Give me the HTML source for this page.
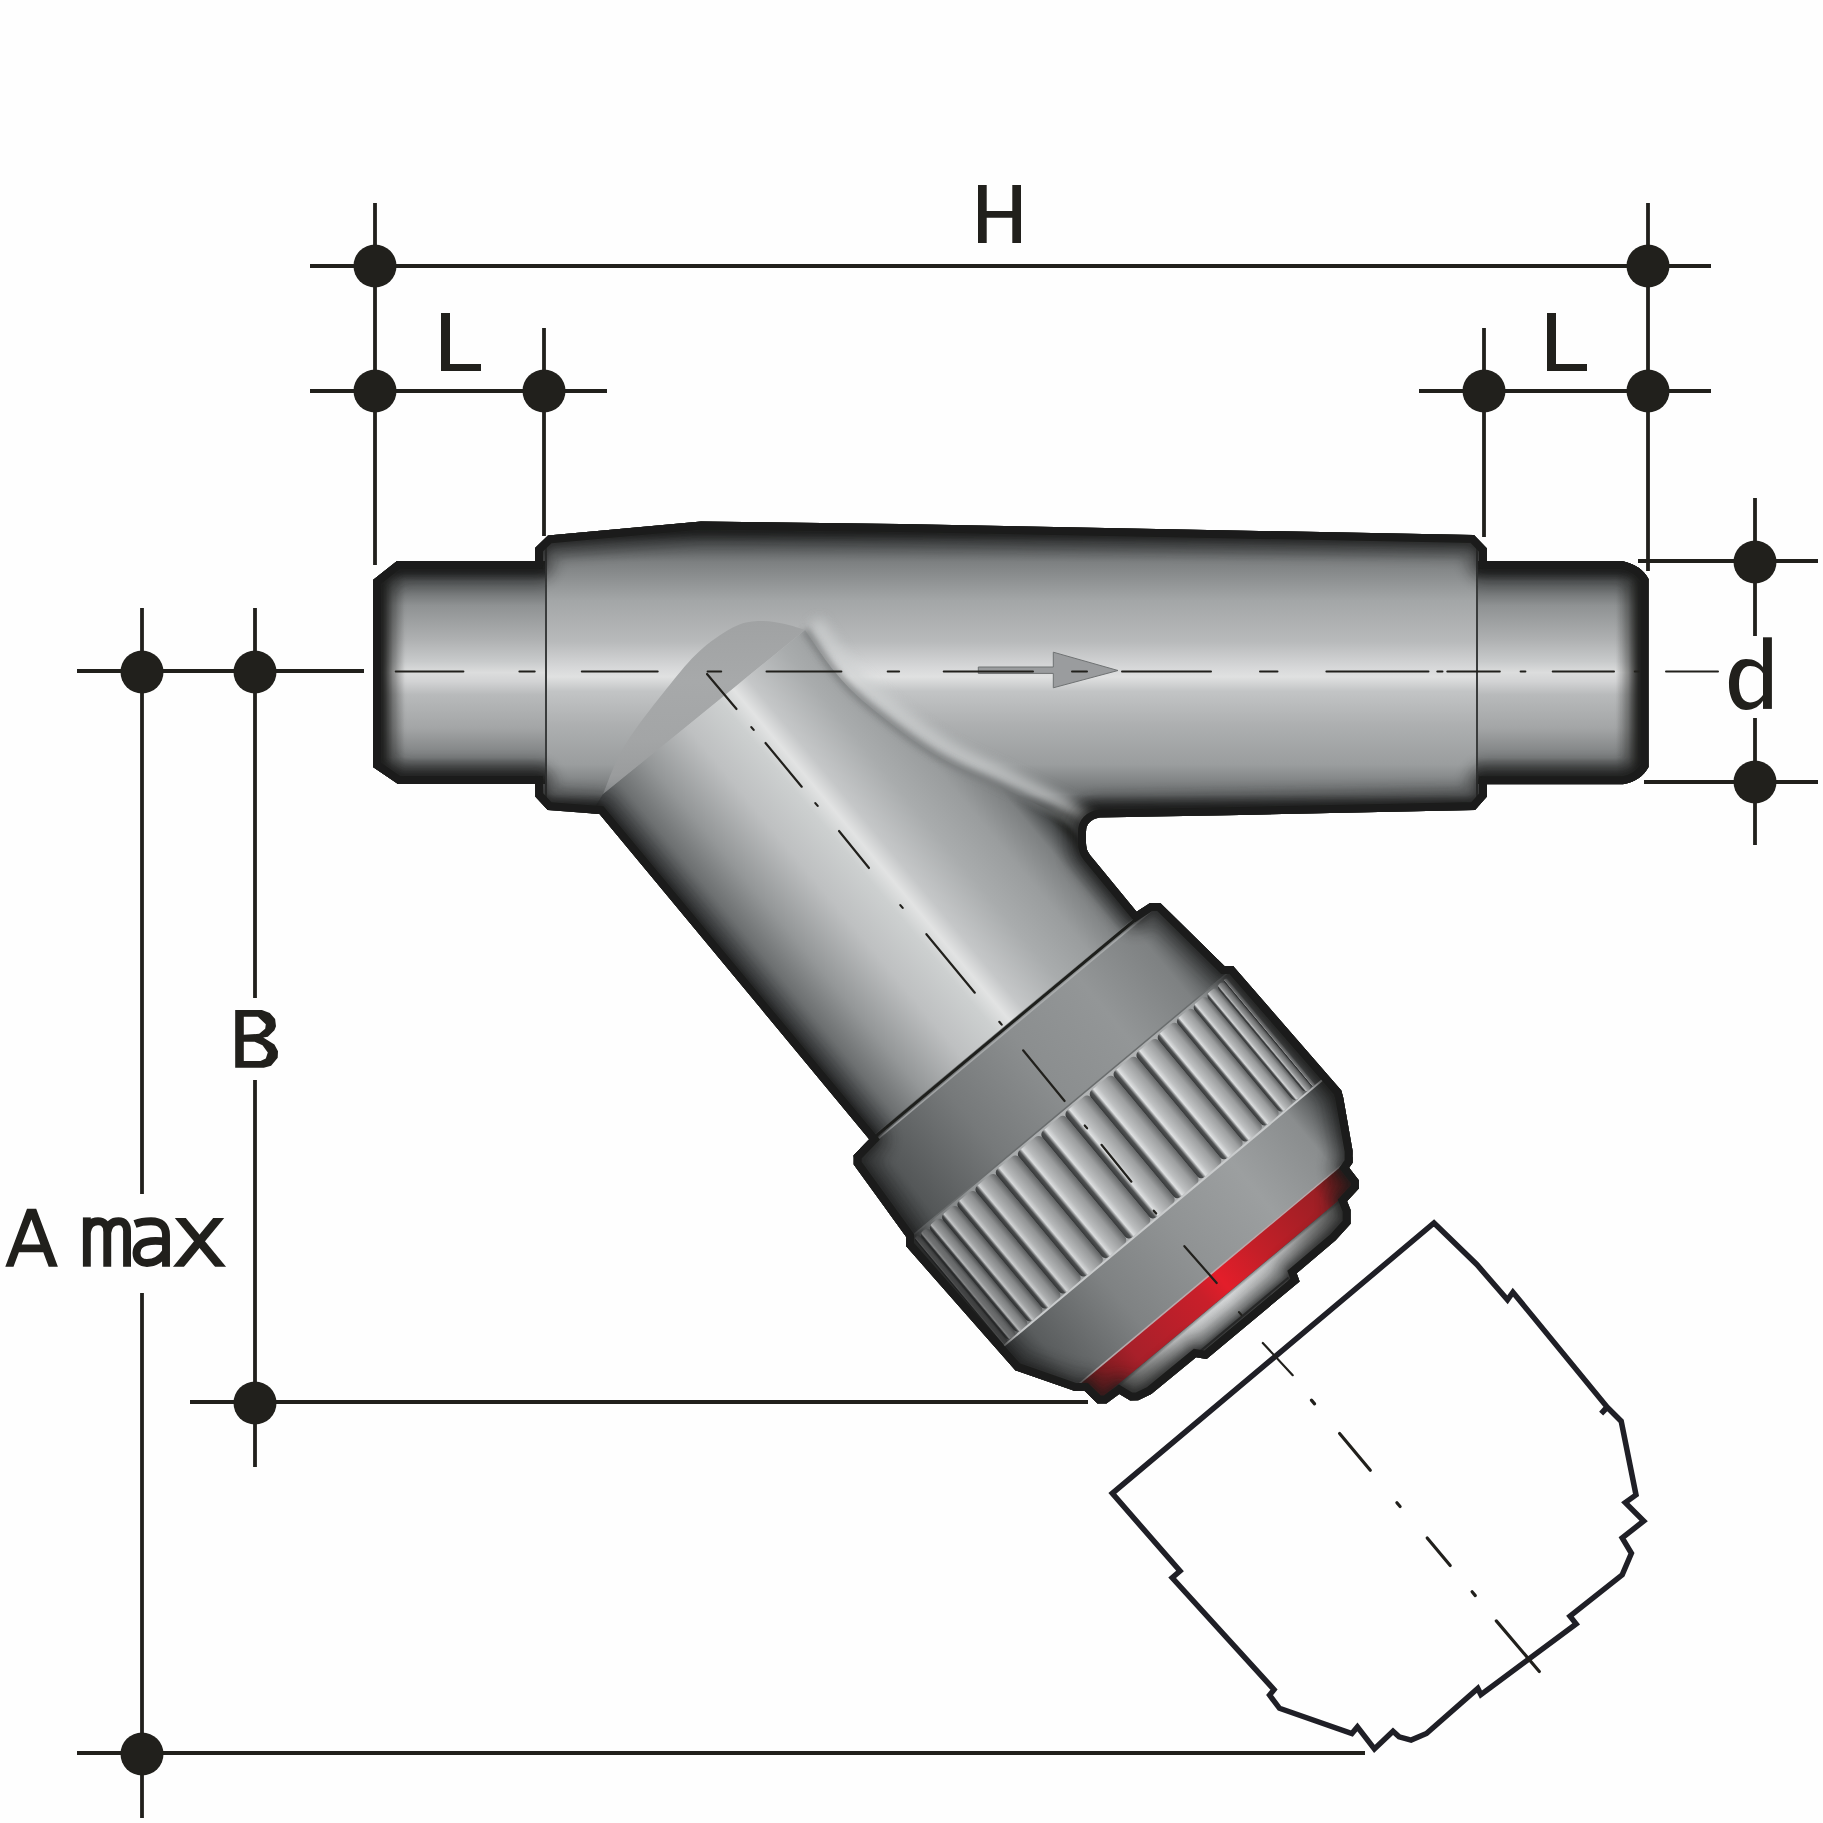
<!DOCTYPE html><html><head><meta charset="utf-8"><style>html,body{margin:0;padding:0;background:#fefefe;}svg{display:block;}</style></head><body>
<svg width="1823" height="1823" viewBox="0 0 1823 1823">
<defs>
<linearGradient id="gSock" x1="0" y1="561" x2="0" y2="784" gradientUnits="userSpaceOnUse"><stop offset="0" stop-color="#1e1f1c"/><stop offset="0.05" stop-color="#2a2c2c"/><stop offset="0.09" stop-color="#5a5d5e"/><stop offset="0.2" stop-color="#8f9293"/><stop offset="0.35" stop-color="#aeb0b1"/><stop offset="0.45" stop-color="#c8cacb"/><stop offset="0.5" stop-color="#dcdddd"/><stop offset="0.54" stop-color="#d2d3d4"/><stop offset="0.6" stop-color="#b8babb"/><stop offset="0.75" stop-color="#a3a5a6"/><stop offset="0.88" stop-color="#7c7f80"/><stop offset="0.95" stop-color="#3e4040"/><stop offset="1" stop-color="#1e1f1c"/></linearGradient>
<linearGradient id="gBody" x1="0" y1="521" x2="0" y2="815" gradientUnits="userSpaceOnUse"><stop offset="0" stop-color="#1e1f1c"/><stop offset="0.04" stop-color="#2a2c2c"/><stop offset="0.07" stop-color="#4e5152"/><stop offset="0.14" stop-color="#7d8081"/><stop offset="0.27" stop-color="#a3a6a7"/><stop offset="0.41" stop-color="#b8babb"/><stop offset="0.5" stop-color="#d7d8d9"/><stop offset="0.53" stop-color="#e0e1e1"/><stop offset="0.58" stop-color="#c2c4c5"/><stop offset="0.69" stop-color="#aeb0b1"/><stop offset="0.83" stop-color="#9a9d9e"/><stop offset="0.93" stop-color="#6d7071"/><stop offset="0.97" stop-color="#2e3030"/><stop offset="1" stop-color="#1e1f1c"/></linearGradient>
<linearGradient id="gEdgeL" x1="373" y1="0" x2="405" y2="0" gradientUnits="userSpaceOnUse"><stop offset="0" stop-color="#1e1f1c" stop-opacity="1"/><stop offset="0.3" stop-color="#1e1f1c" stop-opacity="0.85"/><stop offset="0.6" stop-color="#1e1f1c" stop-opacity="0.3"/><stop offset="1" stop-color="#1e1f1c" stop-opacity="0"/></linearGradient>
<linearGradient id="gEdgeR" x1="1648" y1="0" x2="1616" y2="0" gradientUnits="userSpaceOnUse"><stop offset="0" stop-color="#1e1f1c" stop-opacity="1"/><stop offset="0.3" stop-color="#1e1f1c" stop-opacity="0.85"/><stop offset="0.6" stop-color="#1e1f1c" stop-opacity="0.3"/><stop offset="1" stop-color="#1e1f1c" stop-opacity="0"/></linearGradient>
<linearGradient id="gBranch" x1="0" y1="172" x2="0" y2="-179" gradientUnits="userSpaceOnUse"><stop offset="0" stop-color="#1e1f1c"/><stop offset="0.03" stop-color="#45484a"/><stop offset="0.1" stop-color="#6d7071"/><stop offset="0.2" stop-color="#949798"/><stop offset="0.35" stop-color="#bec0c1"/><stop offset="0.47" stop-color="#cdd0d0"/><stop offset="0.52" stop-color="#e2e3e3"/><stop offset="0.57" stop-color="#c5c7c8"/><stop offset="0.7" stop-color="#a9acad"/><stop offset="0.82" stop-color="#9a9d9e"/><stop offset="0.92" stop-color="#7d8081"/><stop offset="0.97" stop-color="#4a4d4e"/><stop offset="1" stop-color="#1e1f1c"/></linearGradient>
<linearGradient id="gNut" x1="0" y1="214" x2="0" y2="-221" gradientUnits="userSpaceOnUse"><stop offset="0" stop-color="#1e1f1c"/><stop offset="0.03" stop-color="#3a3d3e"/><stop offset="0.1" stop-color="#545758"/><stop offset="0.3" stop-color="#76797a"/><stop offset="0.5" stop-color="#8b8e8f"/><stop offset="0.7" stop-color="#939697"/><stop offset="0.87" stop-color="#7e8182"/><stop offset="0.95" stop-color="#4a4d4e"/><stop offset="1" stop-color="#1e1f1c"/></linearGradient>
<linearGradient id="gNutLow" x1="0" y1="214" x2="0" y2="-221" gradientUnits="userSpaceOnUse"><stop offset="0" stop-color="#1e1f1c"/><stop offset="0.03" stop-color="#3a3d3e"/><stop offset="0.1" stop-color="#5a5d5e"/><stop offset="0.3" stop-color="#7f8283"/><stop offset="0.5" stop-color="#909394"/><stop offset="0.7" stop-color="#9c9fa0"/><stop offset="0.87" stop-color="#8a8d8e"/><stop offset="0.95" stop-color="#4a4d4e"/><stop offset="1" stop-color="#1e1f1c"/></linearGradient>
<linearGradient id="gRib" x1="0" y1="214" x2="0" y2="-221" gradientUnits="userSpaceOnUse"><stop offset="0" stop-color="#1e1f1c"/><stop offset="0.03" stop-color="#4d5051"/><stop offset="0.1" stop-color="#7d8081"/><stop offset="0.3" stop-color="#a7aaab"/><stop offset="0.5" stop-color="#b2b4b5"/><stop offset="0.7" stop-color="#b0b2b3"/><stop offset="0.87" stop-color="#9a9d9e"/><stop offset="0.95" stop-color="#5e6162"/><stop offset="1" stop-color="#1e1f1c"/></linearGradient>
<linearGradient id="gRed" x1="0" y1="178" x2="0" y2="-178" gradientUnits="userSpaceOnUse"><stop offset="0" stop-color="#1e1f1c"/><stop offset="0.05" stop-color="#6b1a1c"/><stop offset="0.2" stop-color="#a8202a"/><stop offset="0.45" stop-color="#c91f2a"/><stop offset="0.52" stop-color="#e31e2a"/><stop offset="0.65" stop-color="#c41f28"/><stop offset="0.88" stop-color="#9c1f25"/><stop offset="0.95" stop-color="#5a1a1a"/><stop offset="1" stop-color="#1e1f1c"/></linearGradient>
<linearGradient id="gCap" x1="0" y1="150" x2="0" y2="-150" gradientUnits="userSpaceOnUse"><stop offset="0" stop-color="#1e1f1c"/><stop offset="0.08" stop-color="#6a6d6e"/><stop offset="0.3" stop-color="#a9acad"/><stop offset="0.5" stop-color="#d6d8d8"/><stop offset="0.7" stop-color="#b3b5b6"/><stop offset="0.92" stop-color="#6a6d6e"/><stop offset="1" stop-color="#1e1f1c"/></linearGradient>
<filter id="b3" x="-20%" y="-20%" width="140%" height="140%"><feGaussianBlur stdDeviation="3"/></filter>
<filter id="b6" x="-20%" y="-20%" width="140%" height="140%"><feGaussianBlur stdDeviation="6"/></filter>
<filter id="b2" x="-20%" y="-20%" width="140%" height="140%"><feGaussianBlur stdDeviation="2"/></filter>
</defs>
<rect x="0" y="0" width="1823" height="1823" fill="#fefefe"/>
<g stroke="#21201c" stroke-width="3.8" fill="none">
<line x1="310" y1="266" x2="1711" y2="266"/>
<line x1="375" y1="203" x2="375" y2="565"/>
<line x1="1648" y1="203" x2="1648" y2="571"/>
<line x1="310" y1="391" x2="607" y2="391"/>
<line x1="544" y1="328" x2="544" y2="536"/>
<line x1="1419" y1="391" x2="1711" y2="391"/>
<line x1="1484" y1="328" x2="1484" y2="537"/>
<line x1="1638" y1="561" x2="1818" y2="561"/>
<line x1="1644" y1="782" x2="1818" y2="782"/>
<line x1="1755" y1="498" x2="1755" y2="636"/>
<line x1="1755" y1="718" x2="1755" y2="845"/>
<line x1="77" y1="671" x2="364" y2="671"/>
<line x1="142" y1="608" x2="142" y2="1194"/>
<line x1="142" y1="1293" x2="142" y2="1818"/>
<line x1="255" y1="608" x2="255" y2="998"/>
<line x1="255" y1="1080" x2="255" y2="1467"/>
<line x1="190" y1="1402" x2="1088" y2="1402"/>
<line x1="77" y1="1753" x2="1365" y2="1753"/>
</g>
<g fill="#21201c">
<circle cx="375" cy="266" r="21.5"/>
<circle cx="1648" cy="266" r="21.5"/>
<circle cx="375" cy="391" r="21.5"/>
<circle cx="544" cy="391" r="21.5"/>
<circle cx="1484" cy="391" r="21.5"/>
<circle cx="1648" cy="391" r="21.5"/>
<circle cx="1755" cy="562" r="21.5"/>
<circle cx="1755" cy="782" r="21.5"/>
<circle cx="142" cy="672" r="21.5"/>
<circle cx="255" cy="672" r="21.5"/>
<circle cx="255" cy="1403" r="21.5"/>
<circle cx="142" cy="1754" r="21.5"/>
</g>
<g fill="#21201c">
<path d="M978,185h8.7v26h25.6v-26h8.7v58h-8.7v-25.3h-25.6v25.3h-8.7z"/>
<path d="M441,313h9v51h31v7h-40z"/>
<path d="M1547,313h9v51h31v7h-40z"/>
<path fill-rule="evenodd" d="M235.2,1010.1 L261.9,1010.1 L269.8,1013 L275.1,1019 L276,1026.2 L274.4,1030.2 L267.8,1036.7 L263.2,1037.4 L274.4,1044.6 L278,1051.2 L277.7,1057.8 L271.1,1065.7 L263.8,1067.7 L235.2,1067.7Z M243.8,1016.7 L257.9,1016.7 L265.8,1024.2 L265.2,1028.8 L259.2,1033.8 L243.8,1034.8Z M243.8,1041.7 L254.6,1041.7 L262.5,1045.3 L267.8,1052.5 L265.8,1058.4 L260.5,1061.1 L243.8,1061.1Z"/>
<rect x="1763" y="637.3" width="8.9" height="71.6"/>
<path fill-rule="evenodd" d="M1764,669C1760,662 1754,659 1746,659C1735,659 1729,670 1729,684.5C1729,699 1736,710 1746,710C1754,710 1760,706 1764,699Z M1764,675C1761,669 1756,666 1750,666C1743,666 1739,673 1739,684.2C1739,695 1743,702.4 1750,702.4C1756,702.4 1761,699 1764,693Z"/>
<path fill-rule="evenodd" d="M5.3,1266.7L27,1208.8H36.2L57.9,1266.7H48.7L43.3,1252.3H18.9L13.5,1266.7Z M21.7,1244.4H40.4L31.4,1219.6Z"/>
</g>
<g fill="none" stroke="#21201c" stroke-width="7.9">
<path d="M86.85,1266.7V1217.4"/>
<path d="M86.85,1232C88,1225 92,1221.3 98,1221.3C104,1221.3 107.25,1225 107.25,1231V1266.7"/>
<path d="M107.25,1232C108.5,1225 112.5,1221.3 118.5,1221.3C124.5,1221.3 127.05,1225 127.05,1231V1266.7"/>
<path d="M135,1224C140,1222 145,1221.3 151,1221.3C161,1221.3 166,1226 166,1235V1266.7"/>
<path d="M166,1242C159,1240.5 152,1240.5 146,1242C139.5,1243.5 136.5,1248 136.5,1253C136.5,1259.5 141,1263 147,1263C155,1263 162,1258 166,1252"/>
</g>
<clipPath id="cx"><rect x="170" y="1218" width="60" height="48.7"/></clipPath><g stroke="#21201c" stroke-width="8.5" fill="none" clip-path="url(#cx)"><line x1="177" y1="1214" x2="224" y2="1271"/><line x1="222" y1="1214" x2="175" y2="1271"/></g>
<clipPath id="cSil"><path d="M373,580 L397,561 L535,561 L535,548 L548,535.5 L701,521.5 L900,524 L1474,535 L1487,548.5 L1487,561 L1622,561 Q1641,565 1648.5,579 L1648.5,767 Q1641,781 1623,784.3 L1487,784.3 L1487,796.5 L1475,810 L1240,815 L1100,817.5 Q1086,820 1086,832 L1086,843 Q1086,850 1090,855 L1136.6,911.7 L1150.0,903.0 L1160.3,902.9 L1224.4,966.0 L1233.1,966.0 L1341.3,1090.6 L1343.2,1097.5 L1352.6,1150.8 L1352.6,1162.7 L1349.1,1167.7 L1359.0,1180.4 L1359.0,1188.3 L1347.1,1201.2 L1350.6,1209.9 L1350.6,1223.8 L1335.6,1240.3 L1296.7,1273.3 L1299.6,1281.4 L1206.6,1358.9 L1196.1,1357.3 L1151.3,1394.0 L1138.3,1400.3 L1130.2,1400.5 L1119.3,1394.0 L1106.4,1403.4 L1097.5,1403.4 L1084.7,1391.1 L1074.9,1391.1 L1015.5,1370.4 L906.0,1246.1 L906.1,1236.8 L853.7,1164.5 L853.7,1155.3 L869.2,1139.2 L599.5,814 L547.7,810 L535.2,796.5 L535,784 L398,784 L373,767 Z"/></clipPath>
<path d="M373,580 L397,561 L535,561 L535,548 L548,535.5 L701,521.5 L900,524 L1474,535 L1487,548.5 L1487,561 L1622,561 Q1641,565 1648.5,579 L1648.5,767 Q1641,781 1623,784.3 L1487,784.3 L1487,796.5 L1475,810 L1240,815 L1100,817.5 Q1086,820 1086,832 L1086,843 Q1086,850 1090,855 L1136.6,911.7 L1150.0,903.0 L1160.3,902.9 L1224.4,966.0 L1233.1,966.0 L1341.3,1090.6 L1343.2,1097.5 L1352.6,1150.8 L1352.6,1162.7 L1349.1,1167.7 L1359.0,1180.4 L1359.0,1188.3 L1347.1,1201.2 L1350.6,1209.9 L1350.6,1223.8 L1335.6,1240.3 L1296.7,1273.3 L1299.6,1281.4 L1206.6,1358.9 L1196.1,1357.3 L1151.3,1394.0 L1138.3,1400.3 L1130.2,1400.5 L1119.3,1394.0 L1106.4,1403.4 L1097.5,1403.4 L1084.7,1391.1 L1074.9,1391.1 L1015.5,1370.4 L906.0,1246.1 L906.1,1236.8 L853.7,1164.5 L853.7,1155.3 L869.2,1139.2 L599.5,814 L547.7,810 L535.2,796.5 L535,784 L398,784 L373,767 Z" fill="#1e1f1c"/>
<g clip-path="url(#cSil)">
<path d="M535,530 L701,521 L900,524 L1487,535 L1487,818 L535,810 Z" fill="url(#gBody)"/>
<rect x="373" y="561" width="173" height="223" fill="url(#gSock)"/>
<rect x="373" y="561" width="33" height="223" fill="url(#gEdgeL)"/>
<rect x="1477" y="561" width="172" height="223" fill="url(#gSock)"/>
<rect x="1615" y="561" width="34" height="223" fill="url(#gEdgeR)"/>
<line x1="546" y1="540" x2="546" y2="812" stroke="#3a3c3c" stroke-width="2"/>
<line x1="1477" y1="540" x2="1477" y2="812" stroke="#3a3c3c" stroke-width="2"/>
<clipPath id="cBr"><path d="M603,794 L805,630 C810.0,637.0 824.5,659.5 835.0,672.0 C845.5,684.5 851.5,691.3 868.0,705.0 C884.5,718.7 912.2,740.5 934.0,754.0 C955.8,767.5 977.2,775.2 999.0,786.0 C1020.8,796.8 1050.8,810.0 1065.0,819.0 C1079.2,828.0 1079.8,833.8 1084.0,840.0 C1088.2,846.2 1089.0,853.3 1090.0,856.0 L1160,925 L850,1160 L590,815 Z"/></clipPath>
<g clip-path="url(#cBr)">
<g transform="translate(707 674) rotate(50.17)">
<rect x="-20" y="-300" width="500" height="600" fill="url(#gBranch)"/>
</g>
</g>
<path d="M805.0,630.0 C810.0,637.0 824.5,659.5 835.0,672.0 C845.5,684.5 851.5,691.3 868.0,705.0 C884.5,718.7 912.2,740.5 934.0,754.0 C955.8,767.5 977.2,775.2 999.0,786.0 C1020.8,796.8 1050.8,810.0 1065.0,819.0 C1079.2,828.0 1079.8,833.8 1084.0,840.0 C1088.2,846.2 1089.0,853.3 1090.0,856.0" fill="none" stroke="#cfd1d2" stroke-width="14" transform="translate(10 -8)" filter="url(#b6)" opacity="0.75"/>
<path d="M805.0,630.0 C810.0,637.0 824.5,659.5 835.0,672.0 C845.5,684.5 851.5,691.3 868.0,705.0 C884.5,718.7 912.2,740.5 934.0,754.0 C955.8,767.5 977.2,775.2 999.0,786.0 C1020.8,796.8 1050.8,810.0 1065.0,819.0 C1079.2,828.0 1079.8,833.8 1084.0,840.0 C1088.2,846.2 1089.0,853.3 1090.0,856.0" fill="none" stroke="#6d7071" stroke-width="7" filter="url(#b3)" opacity="0.7"/>
<linearGradient id="gCapE" x1="0" y1="620" x2="0" y2="805" gradientUnits="userSpaceOnUse"><stop offset="0" stop-color="#a0a2a3"/><stop offset="0.33" stop-color="#a7a9aa"/><stop offset="0.65" stop-color="#a3a5a6"/><stop offset="0.84" stop-color="#9a9c9d"/><stop offset="0.97" stop-color="#85888a"/><stop offset="1" stop-color="#6a6d6e"/></linearGradient>
<path d="M603.0,794.0 C606.7,785.8 613.5,763.7 625.0,745.0 C636.5,726.3 659.0,698.2 672.0,682.0 C685.0,665.8 692.3,657.3 703.0,648.0 C713.7,638.7 726.3,630.5 736.0,626.0 C745.7,621.5 752.8,621.3 761.0,621.0 C769.2,620.7 777.7,622.5 785.0,624.0 C792.3,625.5 801.7,629.0 805.0,630.0 Z" fill="url(#gCapE)"/>
<g transform="translate(707 674) rotate(50.17)">
<path d="M461.0,190.0 L563.0,214.0 L563.0,-218.0 L461.0,-200.0 Z" fill="url(#gNut)"/>
<path d="M461.0,230.0 L563.0,230.0 L563.0,-230.0 L461.0,-230.0 Z" fill="url(#gNut)"/>
<path d="M563.0,230.0 L706.0,230.0 L706.0,-230.0 L563.0,-230.0 Z" fill="url(#gRib)"/>
<path d="M706.0,230.0 L790.0,230.0 L790.0,-230.0 L706.0,-230.0 Z" fill="url(#gNutLow)"/>
<linearGradient id="rb81" x1="0" y1="1" x2="0" y2="0"><stop offset="0" stop-color="#1f2122"/><stop offset="0.13" stop-color="#2f3132"/><stop offset="0.24" stop-color="#939596"/><stop offset="0.4" stop-color="#737576"/><stop offset="0.75" stop-color="#5c5e5f"/><stop offset="1" stop-color="#3d3f40"/></linearGradient>
<rect x="566" y="196.08" width="139" height="6.87" rx="3.4" fill="url(#rb81)"/>
<linearGradient id="rb169" x1="0" y1="1" x2="0" y2="0"><stop offset="0" stop-color="#252728"/><stop offset="0.13" stop-color="#383a3b"/><stop offset="0.24" stop-color="#a8aaab"/><stop offset="0.4" stop-color="#888a8b"/><stop offset="0.75" stop-color="#6e7071"/><stop offset="1" stop-color="#494b4c"/></linearGradient>
<rect x="566" y="184.55" width="139" height="11.53" rx="5.0" fill="url(#rb169)"/>
<linearGradient id="rb258" x1="0" y1="1" x2="0" y2="0"><stop offset="0" stop-color="#2a2c2d"/><stop offset="0.13" stop-color="#3f4142"/><stop offset="0.24" stop-color="#b7b9ba"/><stop offset="0.4" stop-color="#97999a"/><stop offset="0.75" stop-color="#7b7d7e"/><stop offset="1" stop-color="#525455"/></linearGradient>
<rect x="566" y="168.62" width="139" height="15.93" rx="5.0" fill="url(#rb258)"/>
<linearGradient id="rb346" x1="0" y1="1" x2="0" y2="0"><stop offset="0" stop-color="#2d2f30"/><stop offset="0.13" stop-color="#444647"/><stop offset="0.24" stop-color="#c2c4c5"/><stop offset="0.4" stop-color="#a2a4a5"/><stop offset="0.75" stop-color="#848687"/><stop offset="1" stop-color="#585a5b"/></linearGradient>
<rect x="566" y="148.68" width="139" height="19.94" rx="5.0" fill="url(#rb346)"/>
<linearGradient id="rb435" x1="0" y1="1" x2="0" y2="0"><stop offset="0" stop-color="#303233"/><stop offset="0.13" stop-color="#484a4b"/><stop offset="0.24" stop-color="#cbcdce"/><stop offset="0.4" stop-color="#abadae"/><stop offset="0.75" stop-color="#8c8e8f"/><stop offset="1" stop-color="#5d5f60"/></linearGradient>
<rect x="566" y="125.19" width="139" height="23.48" rx="5.0" fill="url(#rb435)"/>
<linearGradient id="rb523" x1="0" y1="1" x2="0" y2="0"><stop offset="0" stop-color="#323435"/><stop offset="0.13" stop-color="#4b4d4e"/><stop offset="0.24" stop-color="#d1d3d4"/><stop offset="0.4" stop-color="#b1b3b4"/><stop offset="0.75" stop-color="#919394"/><stop offset="1" stop-color="#606263"/></linearGradient>
<rect x="566" y="98.73" width="139" height="26.46" rx="5.0" fill="url(#rb523)"/>
<linearGradient id="rb612" x1="0" y1="1" x2="0" y2="0"><stop offset="0" stop-color="#333536"/><stop offset="0.13" stop-color="#4d4f50"/><stop offset="0.24" stop-color="#d6d8d9"/><stop offset="0.4" stop-color="#b6b8b9"/><stop offset="0.75" stop-color="#959798"/><stop offset="1" stop-color="#636566"/></linearGradient>
<rect x="566" y="69.91" width="139" height="28.82" rx="5.0" fill="url(#rb612)"/>
<linearGradient id="rb700" x1="0" y1="1" x2="0" y2="0"><stop offset="0" stop-color="#343637"/><stop offset="0.13" stop-color="#4f5152"/><stop offset="0.24" stop-color="#dadcdd"/><stop offset="0.4" stop-color="#babcbd"/><stop offset="0.75" stop-color="#999b9c"/><stop offset="1" stop-color="#666869"/></linearGradient>
<rect x="566" y="39.43" width="139" height="30.48" rx="5.0" fill="url(#rb700)"/>
<linearGradient id="rb789" x1="0" y1="1" x2="0" y2="0"><stop offset="0" stop-color="#353738"/><stop offset="0.13" stop-color="#505253"/><stop offset="0.24" stop-color="#dcdedf"/><stop offset="0.4" stop-color="#bcbebf"/><stop offset="0.75" stop-color="#9b9d9e"/><stop offset="1" stop-color="#67696a"/></linearGradient>
<rect x="566" y="8.01" width="139" height="31.42" rx="5.0" fill="url(#rb789)"/>
<linearGradient id="rb877" x1="0" y1="1" x2="0" y2="0"><stop offset="0" stop-color="#363839"/><stop offset="0.13" stop-color="#515354"/><stop offset="0.24" stop-color="#dee0e1"/><stop offset="0.4" stop-color="#bec0c1"/><stop offset="0.75" stop-color="#9c9e9f"/><stop offset="1" stop-color="#686a6b"/></linearGradient>
<rect x="566" y="-23.60" width="139" height="31.61" rx="5.0" fill="url(#rb877)"/>
<linearGradient id="rb966" x1="0" y1="1" x2="0" y2="0"><stop offset="0" stop-color="#363839"/><stop offset="0.13" stop-color="#515354"/><stop offset="0.24" stop-color="#dee0e1"/><stop offset="0.4" stop-color="#bec0c1"/><stop offset="0.75" stop-color="#9d9fa0"/><stop offset="1" stop-color="#686a6b"/></linearGradient>
<rect x="566" y="-54.65" width="139" height="31.05" rx="5.0" fill="url(#rb966)"/>
<linearGradient id="rb1054" x1="0" y1="1" x2="0" y2="0"><stop offset="0" stop-color="#363839"/><stop offset="0.13" stop-color="#515354"/><stop offset="0.24" stop-color="#dfe1e2"/><stop offset="0.4" stop-color="#bfc1c2"/><stop offset="0.75" stop-color="#9d9fa0"/><stop offset="1" stop-color="#696b6c"/></linearGradient>
<rect x="566" y="-84.39" width="139" height="29.75" rx="5.0" fill="url(#rb1054)"/>
<linearGradient id="rb1143" x1="0" y1="1" x2="0" y2="0"><stop offset="0" stop-color="#363839"/><stop offset="0.13" stop-color="#515354"/><stop offset="0.24" stop-color="#dfe1e2"/><stop offset="0.4" stop-color="#bfc1c2"/><stop offset="0.75" stop-color="#9d9fa0"/><stop offset="1" stop-color="#696b6c"/></linearGradient>
<rect x="566" y="-112.13" width="139" height="27.74" rx="5.0" fill="url(#rb1143)"/>
<linearGradient id="rb1231" x1="0" y1="1" x2="0" y2="0"><stop offset="0" stop-color="#353738"/><stop offset="0.13" stop-color="#505253"/><stop offset="0.24" stop-color="#dddfe0"/><stop offset="0.4" stop-color="#bdbfc0"/><stop offset="0.75" stop-color="#9c9e9f"/><stop offset="1" stop-color="#686a6b"/></linearGradient>
<rect x="566" y="-137.20" width="139" height="25.07" rx="5.0" fill="url(#rb1231)"/>
<linearGradient id="rb1320" x1="0" y1="1" x2="0" y2="0"><stop offset="0" stop-color="#353738"/><stop offset="0.13" stop-color="#4f5152"/><stop offset="0.24" stop-color="#dbddde"/><stop offset="0.4" stop-color="#bbbdbe"/><stop offset="0.75" stop-color="#9a9c9d"/><stop offset="1" stop-color="#666869"/></linearGradient>
<rect x="566" y="-159.00" width="139" height="21.80" rx="5.0" fill="url(#rb1320)"/>
<linearGradient id="rb1408" x1="0" y1="1" x2="0" y2="0"><stop offset="0" stop-color="#333536"/><stop offset="0.13" stop-color="#4d4f50"/><stop offset="0.24" stop-color="#d6d8d9"/><stop offset="0.4" stop-color="#b6b8b9"/><stop offset="0.75" stop-color="#969899"/><stop offset="1" stop-color="#646667"/></linearGradient>
<rect x="566" y="-177.01" width="139" height="18.01" rx="5.0" fill="url(#rb1408)"/>
<linearGradient id="rb1497" x1="0" y1="1" x2="0" y2="0"><stop offset="0" stop-color="#323435"/><stop offset="0.13" stop-color="#4b4d4e"/><stop offset="0.24" stop-color="#d2d4d5"/><stop offset="0.4" stop-color="#b2b4b5"/><stop offset="0.75" stop-color="#929495"/><stop offset="1" stop-color="#616364"/></linearGradient>
<rect x="566" y="-190.81" width="139" height="13.80" rx="5.0" fill="url(#rb1497)"/>
<linearGradient id="rb1585" x1="0" y1="1" x2="0" y2="0"><stop offset="0" stop-color="#2f3132"/><stop offset="0.13" stop-color="#47494a"/><stop offset="0.24" stop-color="#c8cacb"/><stop offset="0.4" stop-color="#a8aaab"/><stop offset="0.75" stop-color="#898b8c"/><stop offset="1" stop-color="#5b5d5e"/></linearGradient>
<rect x="566" y="-200.07" width="139" height="9.26" rx="4.6" fill="url(#rb1585)"/>
<linearGradient id="rb1674" x1="0" y1="1" x2="0" y2="0"><stop offset="0" stop-color="#2b2d2e"/><stop offset="0.13" stop-color="#414344"/><stop offset="0.24" stop-color="#babcbd"/><stop offset="0.4" stop-color="#9a9c9d"/><stop offset="0.75" stop-color="#7d7f80"/><stop offset="1" stop-color="#535556"/></linearGradient>
<rect x="566" y="-204.56" width="139" height="4.49" rx="2.2" fill="url(#rb1674)"/>
<path d="M563,-230 L563,230" stroke="#6a6d6e" stroke-width="1.5"/>
<path d="M706,-230 L706,230" stroke="#c9cbcc" stroke-width="2"/>
<path d="M463,-230 L463,230" stroke="#1e1f1c" stroke-width="3"/>
<path d="M466.5,-230 L466.5,230" stroke="#b5b7b8" stroke-width="1.5" opacity="0.7"/>
<path d="M783.0,240.0 L809.0,240.0 L809.0,-240.0 L783.0,-240.0 Z" fill="url(#gRed)"/>
<path d="M783.5,-240 L783.5,240" stroke="#b8babb" stroke-width="1.6" opacity="0.9"/>
<linearGradient id="gCapS" x1="809" y1="0" x2="847" y2="0" gradientUnits="userSpaceOnUse"><stop offset="0" stop-color="#8a8d8e"/><stop offset="0.08" stop-color="#d4d6d7"/><stop offset="0.3" stop-color="#c2c4c5"/><stop offset="0.55" stop-color="#a3a6a7"/><stop offset="0.8" stop-color="#5d6061"/><stop offset="1" stop-color="#2a2c2c"/></linearGradient>
<linearGradient id="gCapT" x1="0" y1="170" x2="0" y2="-170" gradientUnits="userSpaceOnUse"><stop offset="0" stop-color="#1e1f1c" stop-opacity="1"/><stop offset="0.12" stop-color="#1e1f1c" stop-opacity="0.55"/><stop offset="0.3" stop-color="#1e1f1c" stop-opacity="0.1"/><stop offset="0.5" stop-color="#1e1f1c" stop-opacity="0"/><stop offset="0.72" stop-color="#1e1f1c" stop-opacity="0.15"/><stop offset="0.9" stop-color="#1e1f1c" stop-opacity="0.6"/><stop offset="1" stop-color="#1e1f1c" stop-opacity="1"/></linearGradient>
<path d="M809.0,240.0 L860.0,240.0 L860.0,-240.0 L809.0,-240.0 Z" fill="url(#gCapS)"/>
<path d="M809.0,240.0 L860.0,240.0 L860.0,-240.0 L809.0,-240.0 Z" fill="url(#gCapT)"/>
<path d="M836,-60 L836,56" stroke="#3a3c3c" stroke-width="2"/>
<path d="M839,-58 L839,54" stroke="#d0d2d3" stroke-width="2.5" opacity="0.8"/>
</g>
<path d="M373,580 L397,561 L535,561 L535,548 L548,535.5 L701,521.5 L900,524 L1474,535 L1487,548.5 L1487,561 L1622,561 Q1641,565 1648.5,579 L1648.5,767 Q1641,781 1623,784.3 L1487,784.3 L1487,796.5 L1475,810 L1240,815 L1100,817.5 Q1086,820 1086,832 L1086,843 Q1086,850 1090,855 L1136.6,911.7 L1150.0,903.0 L1160.3,902.9 L1224.4,966.0 L1233.1,966.0 L1341.3,1090.6 L1343.2,1097.5 L1352.6,1150.8 L1352.6,1162.7 L1349.1,1167.7 L1359.0,1180.4 L1359.0,1188.3 L1347.1,1201.2 L1350.6,1209.9 L1350.6,1223.8 L1335.6,1240.3 L1296.7,1273.3 L1299.6,1281.4 L1206.6,1358.9 L1196.1,1357.3 L1151.3,1394.0 L1138.3,1400.3 L1130.2,1400.5 L1119.3,1394.0 L1106.4,1403.4 L1097.5,1403.4 L1084.7,1391.1 L1074.9,1391.1 L1015.5,1370.4 L906.0,1246.1 L906.1,1236.8 L853.7,1164.5 L853.7,1155.3 L869.2,1139.2 L599.5,814 L547.7,810 L535.2,796.5 L535,784 L398,784 L373,767 Z" fill="none" stroke="#1e1f1c" stroke-width="16" stroke-linejoin="miter"/>
<path d="M373,580 L397,561 L535,561 L535,548 L548,535.5 L701,521.5 L900,524 L1474,535 L1487,548.5 L1487,561 L1622,561 Q1641,565 1648.5,579 L1648.5,767 Q1641,781 1623,784.3 L1487,784.3 L1487,796.5 L1475,810 L1240,815 L1100,817.5 Q1086,820 1086,832 L1086,843 Q1086,850 1090,855 L1136.6,911.7 L1150.0,903.0 L1160.3,902.9 L1224.4,966.0 L1233.1,966.0 L1341.3,1090.6 L1343.2,1097.5 L1352.6,1150.8 L1352.6,1162.7 L1349.1,1167.7 L1359.0,1180.4 L1359.0,1188.3 L1347.1,1201.2 L1350.6,1209.9 L1350.6,1223.8 L1335.6,1240.3 L1296.7,1273.3 L1299.6,1281.4 L1206.6,1358.9 L1196.1,1357.3 L1151.3,1394.0 L1138.3,1400.3 L1130.2,1400.5 L1119.3,1394.0 L1106.4,1403.4 L1097.5,1403.4 L1084.7,1391.1 L1074.9,1391.1 L1015.5,1370.4 L906.0,1246.1 L906.1,1236.8 L853.7,1164.5 L853.7,1155.3 L869.2,1139.2 L599.5,814 L547.7,810 L535.2,796.5 L535,784 L398,784 L373,767 Z" fill="none" stroke="#1e1f1c" stroke-width="24" stroke-linejoin="round" filter="url(#b3)" opacity="0.5"/>
<path d="M373,580 L397,561 L535,561 L535,548 L548,535.5 L701,521.5 L900,524 L1474,535 L1487,548.5 L1487,561 L1622,561 Q1641,565 1648.5,579 L1648.5,767 Q1641,781 1623,784.3 L1487,784.3 L1487,796.5 L1475,810 L1240,815 L1100,817.5 Q1086,820 1086,832 L1086,843 Q1086,850 1090,855 L1136.6,911.7 L1150.0,903.0 L1160.3,902.9 L1224.4,966.0 L1233.1,966.0 L1341.3,1090.6 L1343.2,1097.5 L1352.6,1150.8 L1352.6,1162.7 L1349.1,1167.7 L1359.0,1180.4 L1359.0,1188.3 L1347.1,1201.2 L1350.6,1209.9 L1350.6,1223.8 L1335.6,1240.3 L1296.7,1273.3 L1299.6,1281.4 L1206.6,1358.9 L1196.1,1357.3 L1151.3,1394.0 L1138.3,1400.3 L1130.2,1400.5 L1119.3,1394.0 L1106.4,1403.4 L1097.5,1403.4 L1084.7,1391.1 L1074.9,1391.1 L1015.5,1370.4 L906.0,1246.1 L906.1,1236.8 L853.7,1164.5 L853.7,1155.3 L869.2,1139.2 L599.5,814 L547.7,810 L535.2,796.5 L535,784 L398,784 L373,767 Z" fill="none" stroke="#1e1f1c" stroke-width="44" stroke-linejoin="round" filter="url(#b6)" opacity="0.35"/>
</g>
<polygon points="1434,1223 1476.8,1264.5 1507.5,1299.8 1512.9,1292.2 1607.3,1407.3 1601.2,1413.5 1607,1407 1621.2,1421.2 1636,1494.9 1625.3,1502.6 1643.7,1521 1622.2,1537.9 1631.4,1553.3 1622.2,1574.8 1570,1616.2 1576.1,1623.9 1480.9,1694.6 1477.8,1688.4 1426.5,1733.5 1411.1,1740.1 1399.1,1736.8 1393,1731.3 1374.4,1748.9 1357.4,1726.9 1351.9,1733.5 1279.5,1708.3 1269.6,1695.1 1274,1689.6 1172.2,1577.8 1180,1571 1112.3,1493.4" fill="#fefefe" stroke="#1f1f26" stroke-width="5.5" stroke-linejoin="miter"/>
<path d="M978.3,667 H1053.3 V652.2 L1118,670.5 L1053.3,687.8 V673.4 H978.3 Z" fill="#9a9c9e" stroke="#6f7273" stroke-width="1"/>
<g stroke="#21201c" stroke-width="2.0" stroke-linecap="round">
<line x1="395.7" y1="671.5" x2="463.4" y2="671.5"/>
<line x1="519.4" y1="671.5" x2="534.7" y2="671.5"/>
<line x1="581.8" y1="671.5" x2="657.7" y2="671.5"/>
<line x1="707.6" y1="671.5" x2="721.2" y2="671.5"/>
<line x1="766.5" y1="671.5" x2="841.4" y2="671.5"/>
<line x1="887.7" y1="671.5" x2="899.1" y2="671.5"/>
<line x1="943.7" y1="671.5" x2="1033" y2="671.5"/>
<line x1="1072" y1="671.5" x2="1087" y2="671.5"/>
<line x1="1122" y1="671.5" x2="1211" y2="671.5"/>
<line x1="1260" y1="671.5" x2="1277.5" y2="671.5"/>
<line x1="1326.4" y1="671.5" x2="1428.5" y2="671.5"/>
<line x1="1437.3" y1="671.5" x2="1442.5" y2="671.5"/>
<line x1="1447.3" y1="671.5" x2="1499.8" y2="671.5"/>
<line x1="1520.6" y1="671.5" x2="1525.4" y2="671.5"/>
<line x1="1552.7" y1="671.5" x2="1614" y2="671.5"/>
<line x1="1634.8" y1="671.5" x2="1638.8" y2="671.5"/>
<line x1="1666" y1="671.5" x2="1718" y2="671.5"/>
<line x1="707.0" y1="674.0" x2="736.5" y2="709.0" stroke-width="2.2"/>
<line x1="751.3" y1="727.1" x2="753.7" y2="729.9" stroke-width="2.2"/>
<line x1="765.5" y1="743.0" x2="801.7" y2="786.7" stroke-width="2.2"/>
<line x1="815.3" y1="803.1" x2="817.7" y2="805.9" stroke-width="2.2"/>
<line x1="839.0" y1="831.0" x2="869.0" y2="868.0" stroke-width="2.2"/>
<line x1="900.3" y1="905.1" x2="902.7" y2="907.9" stroke-width="2.2"/>
<line x1="926.4" y1="934.2" x2="974.8" y2="992.7" stroke-width="2.2"/>
<line x1="999.3" y1="1021.8" x2="1001.7" y2="1024.6" stroke-width="2.2"/>
<line x1="1023.1" y1="1050.3" x2="1064.6" y2="1101.0" stroke-width="2.2"/>
<line x1="1084.7" y1="1125.5" x2="1087.1" y2="1128.3" stroke-width="2.2"/>
<line x1="1101.5" y1="1144.8" x2="1131.4" y2="1181.7" stroke-width="2.2"/>
<line x1="1153.8" y1="1210.7" x2="1156.2" y2="1213.5" stroke-width="2.2"/>
<line x1="1184.4" y1="1246.2" x2="1216.7" y2="1283.0" stroke-width="2.2"/>
<line x1="1239.0" y1="1312.1" x2="1241.4" y2="1314.9" stroke-width="2.2"/>
<line x1="1262.8" y1="1343.0" x2="1292.7" y2="1375.2" stroke-width="2.2"/>
<line x1="1311.4" y1="1400.1" x2="1314.6" y2="1403.9" stroke-width="3.2"/>
<line x1="1339.6" y1="1433.5" x2="1370.3" y2="1470.3" stroke-width="3.2"/>
<line x1="1396.9" y1="1502.7" x2="1400.1" y2="1506.5" stroke-width="3.2"/>
<line x1="1427.2" y1="1537.9" x2="1450.2" y2="1565.6" stroke-width="3.2"/>
<line x1="1472.1" y1="1591.8" x2="1475.3" y2="1595.6" stroke-width="3.2"/>
<line x1="1496.3" y1="1620.9" x2="1539.3" y2="1671.5" stroke-width="3.2"/>
</g>
</svg></body></html>
